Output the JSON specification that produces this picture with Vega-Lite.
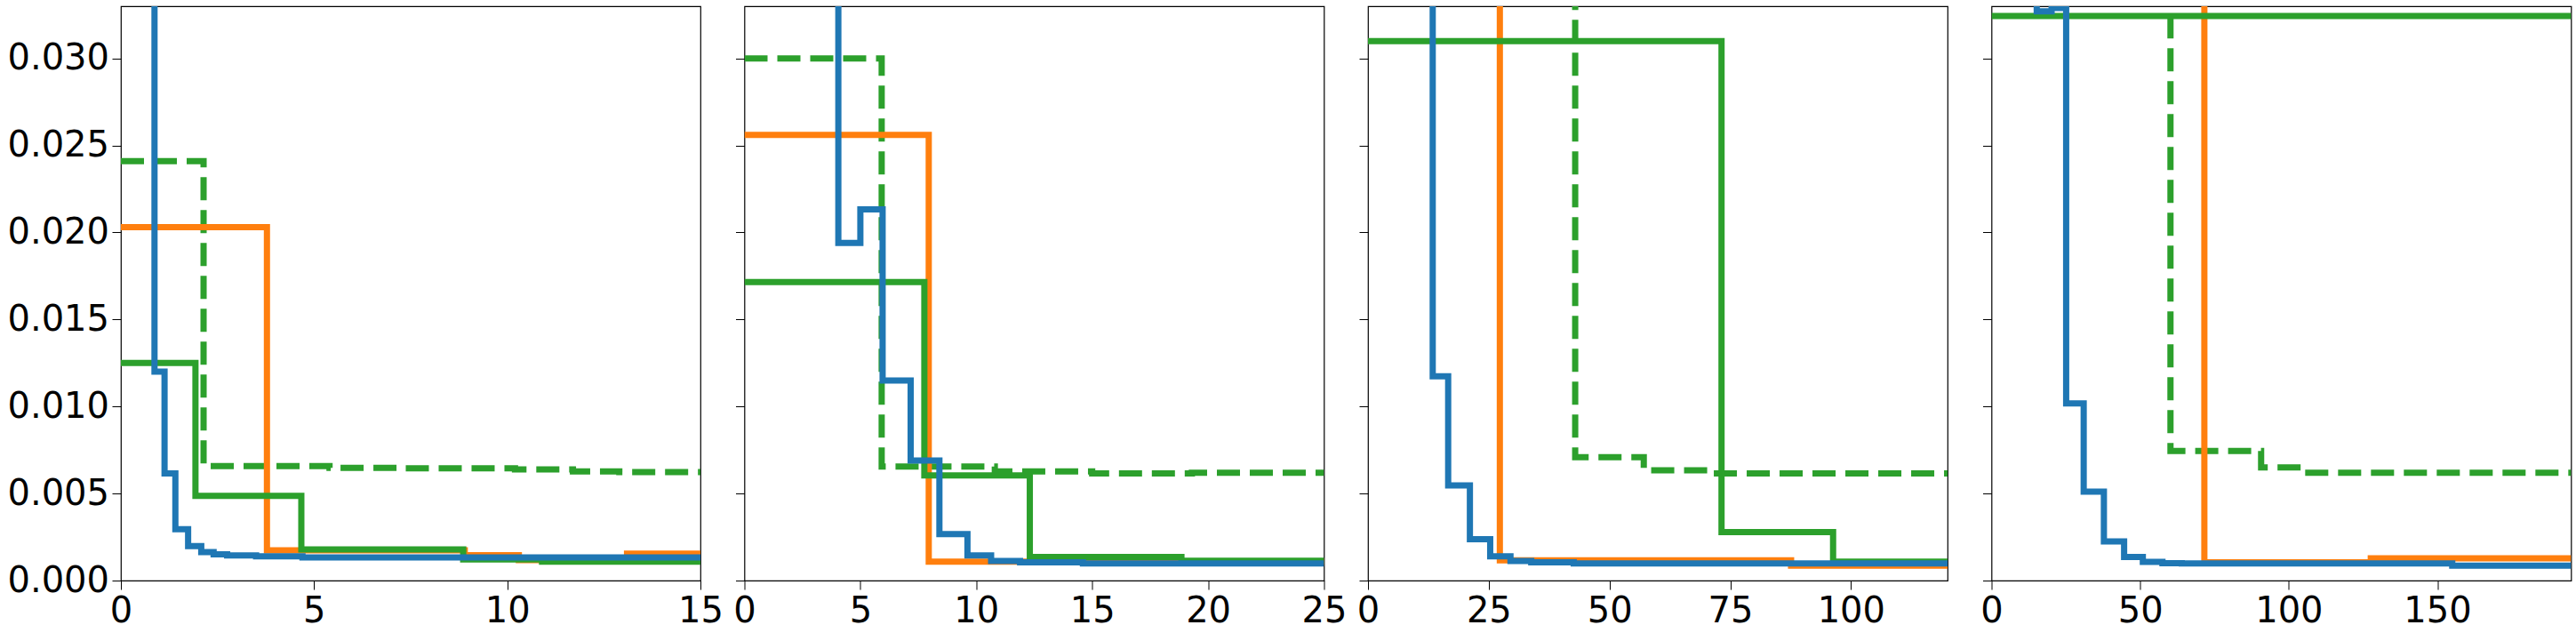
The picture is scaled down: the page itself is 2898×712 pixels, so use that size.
{
  "$schema": "https://vega.github.io/schema/vega-lite/v6.json",
  "padding": {"left": 7, "top": 6, "right": 0, "bottom": 0},
  "background": "white",
  "bounds": "flush",
  "spacing": 49.5,
  "datasets": {
    "d": [
      {"p": 1, "s": "blue", "x": 0, "y": 0.06},
      {"p": 1, "s": "blue", "x": 0.87, "y": 0.0120},
      {"p": 1, "s": "blue", "x": 1.13, "y": 0.00616},
      {"p": 1, "s": "blue", "x": 1.41, "y": 0.00295},
      {"p": 1, "s": "blue", "x": 1.74, "y": 0.00198},
      {"p": 1, "s": "blue", "x": 2.08, "y": 0.00163},
      {"p": 1, "s": "blue", "x": 2.4, "y": 0.00151},
      {"p": 1, "s": "blue", "x": 2.75, "y": 0.00144},
      {"p": 1, "s": "blue", "x": 3.5, "y": 0.00139},
      {"p": 1, "s": "blue", "x": 4.7, "y": 0.00133},
      {"p": 1, "s": "blue", "x": 15, "y": 0.00133},
      {"p": 1, "s": "orange", "x": 0, "y": 0.0203},
      {"p": 1, "s": "orange", "x": 3.78, "y": 0.00174},
      {"p": 1, "s": "orange", "x": 8.9, "y": 0.00146},
      {"p": 1, "s": "orange", "x": 10.3, "y": 0.00118},
      {"p": 1, "s": "orange", "x": 13.1, "y": 0.00155},
      {"p": 1, "s": "orange", "x": 15, "y": 0.00155},
      {"p": 1, "s": "green", "x": 0, "y": 0.0125},
      {"p": 1, "s": "green", "x": 1.93, "y": 0.00486},
      {"p": 1, "s": "green", "x": 4.67, "y": 0.00179},
      {"p": 1, "s": "green", "x": 8.86, "y": 0.00121},
      {"p": 1, "s": "green", "x": 10.9, "y": 0.00109},
      {"p": 1, "s": "green", "x": 15, "y": 0.00109},
      {"p": 1, "s": "greendash", "x": 0, "y": 0.0241},
      {"p": 1, "s": "greendash", "x": 2.14, "y": 0.00658},
      {"p": 1, "s": "greendash", "x": 5.4, "y": 0.00648},
      {"p": 1, "s": "greendash", "x": 7.2, "y": 0.00645},
      {"p": 1, "s": "greendash", "x": 10.2, "y": 0.00639},
      {"p": 1, "s": "greendash", "x": 11.7, "y": 0.00627},
      {"p": 1, "s": "greendash", "x": 12.9, "y": 0.00623},
      {"p": 1, "s": "greendash", "x": 15, "y": 0.00623},

      {"p": 2, "s": "blue", "x": 0, "y": 0.06},
      {"p": 2, "s": "blue", "x": 4.05, "y": 0.0194},
      {"p": 2, "s": "blue", "x": 5.0, "y": 0.02133},
      {"p": 2, "s": "blue", "x": 5.96, "y": 0.0115},
      {"p": 2, "s": "blue", "x": 7.17, "y": 0.0069},
      {"p": 2, "s": "blue", "x": 8.41, "y": 0.00267},
      {"p": 2, "s": "blue", "x": 9.62, "y": 0.00144},
      {"p": 2, "s": "blue", "x": 10.64, "y": 0.00112},
      {"p": 2, "s": "blue", "x": 11.89, "y": 0.00105},
      {"p": 2, "s": "blue", "x": 14.6, "y": 0.00098},
      {"p": 2, "s": "blue", "x": 25, "y": 0.00098},
      {"p": 2, "s": "orange", "x": 0, "y": 0.0256},
      {"p": 2, "s": "orange", "x": 7.95, "y": 0.00109},
      {"p": 2, "s": "orange", "x": 25, "y": 0.00109},
      {"p": 2, "s": "green", "x": 0, "y": 0.01715},
      {"p": 2, "s": "green", "x": 7.76, "y": 0.00604},
      {"p": 2, "s": "green", "x": 12.31, "y": 0.00135},
      {"p": 2, "s": "green", "x": 18.85, "y": 0.00114},
      {"p": 2, "s": "green", "x": 25, "y": 0.00114},
      {"p": 2, "s": "greendash", "x": 0, "y": 0.0300},
      {"p": 2, "s": "greendash", "x": 5.92, "y": 0.00655},
      {"p": 2, "s": "greendash", "x": 10.8, "y": 0.00627},
      {"p": 2, "s": "greendash", "x": 15, "y": 0.00616},
      {"p": 2, "s": "greendash", "x": 19.3, "y": 0.0062},
      {"p": 2, "s": "greendash", "x": 25, "y": 0.0062},

      {"p": 3, "s": "blue", "x": 0, "y": 0.06},
      {"p": 3, "s": "blue", "x": 13.4, "y": 0.01174},
      {"p": 3, "s": "blue", "x": 16.6, "y": 0.00546},
      {"p": 3, "s": "blue", "x": 21.1, "y": 0.00237},
      {"p": 3, "s": "blue", "x": 25.3, "y": 0.00139},
      {"p": 3, "s": "blue", "x": 29.5, "y": 0.00112},
      {"p": 3, "s": "blue", "x": 33.8, "y": 0.00105},
      {"p": 3, "s": "blue", "x": 42.6, "y": 0.00098},
      {"p": 3, "s": "blue", "x": 120, "y": 0.00098},
      {"p": 3, "s": "orange", "x": 0, "y": 0.06},
      {"p": 3, "s": "orange", "x": 27.3, "y": 0.00116},
      {"p": 3, "s": "orange", "x": 87.6, "y": 0.00086},
      {"p": 3, "s": "orange", "x": 120, "y": 0.00086},
      {"p": 3, "s": "green", "x": 0, "y": 0.0310},
      {"p": 3, "s": "green", "x": 73.2, "y": 0.00279},
      {"p": 3, "s": "green", "x": 96.3, "y": 0.00109},
      {"p": 3, "s": "green", "x": 120, "y": 0.00109},
      {"p": 3, "s": "greendash", "x": 0, "y": 0.06},
      {"p": 3, "s": "greendash", "x": 42.9, "y": 0.00709},
      {"p": 3, "s": "greendash", "x": 57.1, "y": 0.00634},
      {"p": 3, "s": "greendash", "x": 71.5, "y": 0.00616},
      {"p": 3, "s": "greendash", "x": 120, "y": 0.00616},

      {"p": 4, "s": "blue", "x": 0, "y": 0.06},
      {"p": 4, "s": "blue", "x": 15.2, "y": 0.0327},
      {"p": 4, "s": "blue", "x": 20.2, "y": 0.0329},
      {"p": 4, "s": "blue", "x": 25.1, "y": 0.01018},
      {"p": 4, "s": "blue", "x": 31, "y": 0.00511},
      {"p": 4, "s": "blue", "x": 37.8, "y": 0.00225},
      {"p": 4, "s": "blue", "x": 44.6, "y": 0.00135},
      {"p": 4, "s": "blue", "x": 50.9, "y": 0.00107},
      {"p": 4, "s": "blue", "x": 57.5, "y": 0.0010},
      {"p": 4, "s": "blue", "x": 64, "y": 0.00098},
      {"p": 4, "s": "blue", "x": 155, "y": 0.00086},
      {"p": 4, "s": "blue", "x": 195, "y": 0.00086},
      {"p": 4, "s": "orange", "x": 0, "y": 0.06},
      {"p": 4, "s": "orange", "x": 71.6, "y": 0.00105},
      {"p": 4, "s": "orange", "x": 127.6, "y": 0.00128},
      {"p": 4, "s": "orange", "x": 195, "y": 0.00128},
      {"p": 4, "s": "green", "x": 0, "y": 0.03244},
      {"p": 4, "s": "green", "x": 195, "y": 0.03244},
      {"p": 4, "s": "greendash", "x": 0, "y": 0.06},
      {"p": 4, "s": "greendash", "x": 60.2, "y": 0.00744},
      {"p": 4, "s": "greendash", "x": 90.7, "y": 0.0065},
      {"p": 4, "s": "greendash", "x": 104, "y": 0.0062},
      {"p": 4, "s": "greendash", "x": 195, "y": 0.0062}
    ]
  },
  "config": {
    "view": {"stroke": "black", "strokeWidth": 1.2},
    "axis": {
      "domain": false,
      "grid": false,
      "ticks": true,
      "tickColor": "black",
      "tickSize": 10,
      "tickWidth": 1,
      "labelFont": "DejaVu Sans",
      "labelFontSize": 40,
      "labelColor": "black",
      "labelFlush": false,
      "labelOverlap": false,
      "labelBound": false,
      "title": null
    },
    "axisX": {"labelPadding": 4},
    "axisY": {"labelPadding": 3.5}
  },
  "hconcat": [
    {
      "width": 652, "height": 646,
      "data": {"name": "d"},
      "transform": [{"filter": "datum.p == 1"}],
      "encoding": {
        "x": {"field": "x", "type": "quantitative", "scale": {"domain": [0, 15], "nice": false, "zero": false}, "axis": {"values": [0, 5, 10, 15]}},
        "y": {"field": "y", "type": "quantitative", "scale": {"domain": [0, 0.033], "nice": false}, "axis": {"values": [0, 0.005, 0.01, 0.015, 0.02, 0.025, 0.03], "format": ".3f"}},
        "color": {"field": "s", "type": "nominal", "scale": {"domain": ["blue", "orange", "green", "greendash"], "range": ["#1f77b4", "#ff7f0e", "#2ca02c", "#2ca02c"]}, "legend": null}
      },
      "layer": [
        {"transform": [{"filter": "datum.s == 'greendash'"}], "mark": {"type": "line", "interpolate": "step-after", "clip": true, "strokeWidth": 7, "strokeDash": [26, 11]}},
        {"transform": [{"filter": "datum.s == 'orange'"}], "mark": {"type": "line", "interpolate": "step-after", "clip": true, "strokeWidth": 7}},
        {"transform": [{"filter": "datum.s == 'green'"}], "mark": {"type": "line", "interpolate": "step-after", "clip": true, "strokeWidth": 7}},
        {"transform": [{"filter": "datum.s == 'blue'"}], "mark": {"type": "line", "interpolate": "step-after", "clip": true, "strokeWidth": 7}}
      ]
    },
    {
      "width": 652, "height": 646,
      "data": {"name": "d"},
      "transform": [{"filter": "datum.p == 2"}],
      "encoding": {
        "x": {"field": "x", "type": "quantitative", "scale": {"domain": [0, 25], "nice": false, "zero": false}, "axis": {"values": [0, 5, 10, 15, 20, 25]}},
        "y": {"field": "y", "type": "quantitative", "scale": {"domain": [0, 0.033], "nice": false}, "axis": {"values": [0, 0.005, 0.01, 0.015, 0.02, 0.025, 0.03], "labels": false}},
        "color": {"field": "s", "type": "nominal", "scale": {"domain": ["blue", "orange", "green", "greendash"], "range": ["#1f77b4", "#ff7f0e", "#2ca02c", "#2ca02c"]}, "legend": null}
      },
      "layer": [
        {"transform": [{"filter": "datum.s == 'greendash'"}], "mark": {"type": "line", "interpolate": "step-after", "clip": true, "strokeWidth": 7, "strokeDash": [26, 11]}},
        {"transform": [{"filter": "datum.s == 'orange'"}], "mark": {"type": "line", "interpolate": "step-after", "clip": true, "strokeWidth": 7}},
        {"transform": [{"filter": "datum.s == 'green'"}], "mark": {"type": "line", "interpolate": "step-after", "clip": true, "strokeWidth": 7}},
        {"transform": [{"filter": "datum.s == 'blue'"}], "mark": {"type": "line", "interpolate": "step-after", "clip": true, "strokeWidth": 7}}
      ]
    },
    {
      "width": 652, "height": 646,
      "data": {"name": "d"},
      "transform": [{"filter": "datum.p == 3"}],
      "encoding": {
        "x": {"field": "x", "type": "quantitative", "scale": {"domain": [0, 120], "nice": false, "zero": false}, "axis": {"values": [0, 25, 50, 75, 100]}},
        "y": {"field": "y", "type": "quantitative", "scale": {"domain": [0, 0.033], "nice": false}, "axis": {"values": [0, 0.005, 0.01, 0.015, 0.02, 0.025, 0.03], "labels": false}},
        "color": {"field": "s", "type": "nominal", "scale": {"domain": ["blue", "orange", "green", "greendash"], "range": ["#1f77b4", "#ff7f0e", "#2ca02c", "#2ca02c"]}, "legend": null}
      },
      "layer": [
        {"transform": [{"filter": "datum.s == 'greendash'"}], "mark": {"type": "line", "interpolate": "step-after", "clip": true, "strokeWidth": 7, "strokeDash": [26, 11]}},
        {"transform": [{"filter": "datum.s == 'orange'"}], "mark": {"type": "line", "interpolate": "step-after", "clip": true, "strokeWidth": 7}},
        {"transform": [{"filter": "datum.s == 'green'"}], "mark": {"type": "line", "interpolate": "step-after", "clip": true, "strokeWidth": 7}},
        {"transform": [{"filter": "datum.s == 'blue'"}], "mark": {"type": "line", "interpolate": "step-after", "clip": true, "strokeWidth": 7}}
      ]
    },
    {
      "width": 652, "height": 646,
      "data": {"name": "d"},
      "transform": [{"filter": "datum.p == 4"}],
      "encoding": {
        "x": {"field": "x", "type": "quantitative", "scale": {"domain": [0, 195], "nice": false, "zero": false}, "axis": {"values": [0, 50, 100, 150]}},
        "y": {"field": "y", "type": "quantitative", "scale": {"domain": [0, 0.033], "nice": false}, "axis": {"values": [0, 0.005, 0.01, 0.015, 0.02, 0.025, 0.03], "labels": false}},
        "color": {"field": "s", "type": "nominal", "scale": {"domain": ["blue", "orange", "green", "greendash"], "range": ["#1f77b4", "#ff7f0e", "#2ca02c", "#2ca02c"]}, "legend": null}
      },
      "layer": [
        {"transform": [{"filter": "datum.s == 'greendash'"}], "mark": {"type": "line", "interpolate": "step-after", "clip": true, "strokeWidth": 7, "strokeDash": [26, 11]}},
        {"transform": [{"filter": "datum.s == 'orange'"}], "mark": {"type": "line", "interpolate": "step-after", "clip": true, "strokeWidth": 7}},
        {"transform": [{"filter": "datum.s == 'green'"}], "mark": {"type": "line", "interpolate": "step-after", "clip": true, "strokeWidth": 7}},
        {"transform": [{"filter": "datum.s == 'blue'"}], "mark": {"type": "line", "interpolate": "step-after", "clip": true, "strokeWidth": 7}}
      ]
    }
  ]
}
